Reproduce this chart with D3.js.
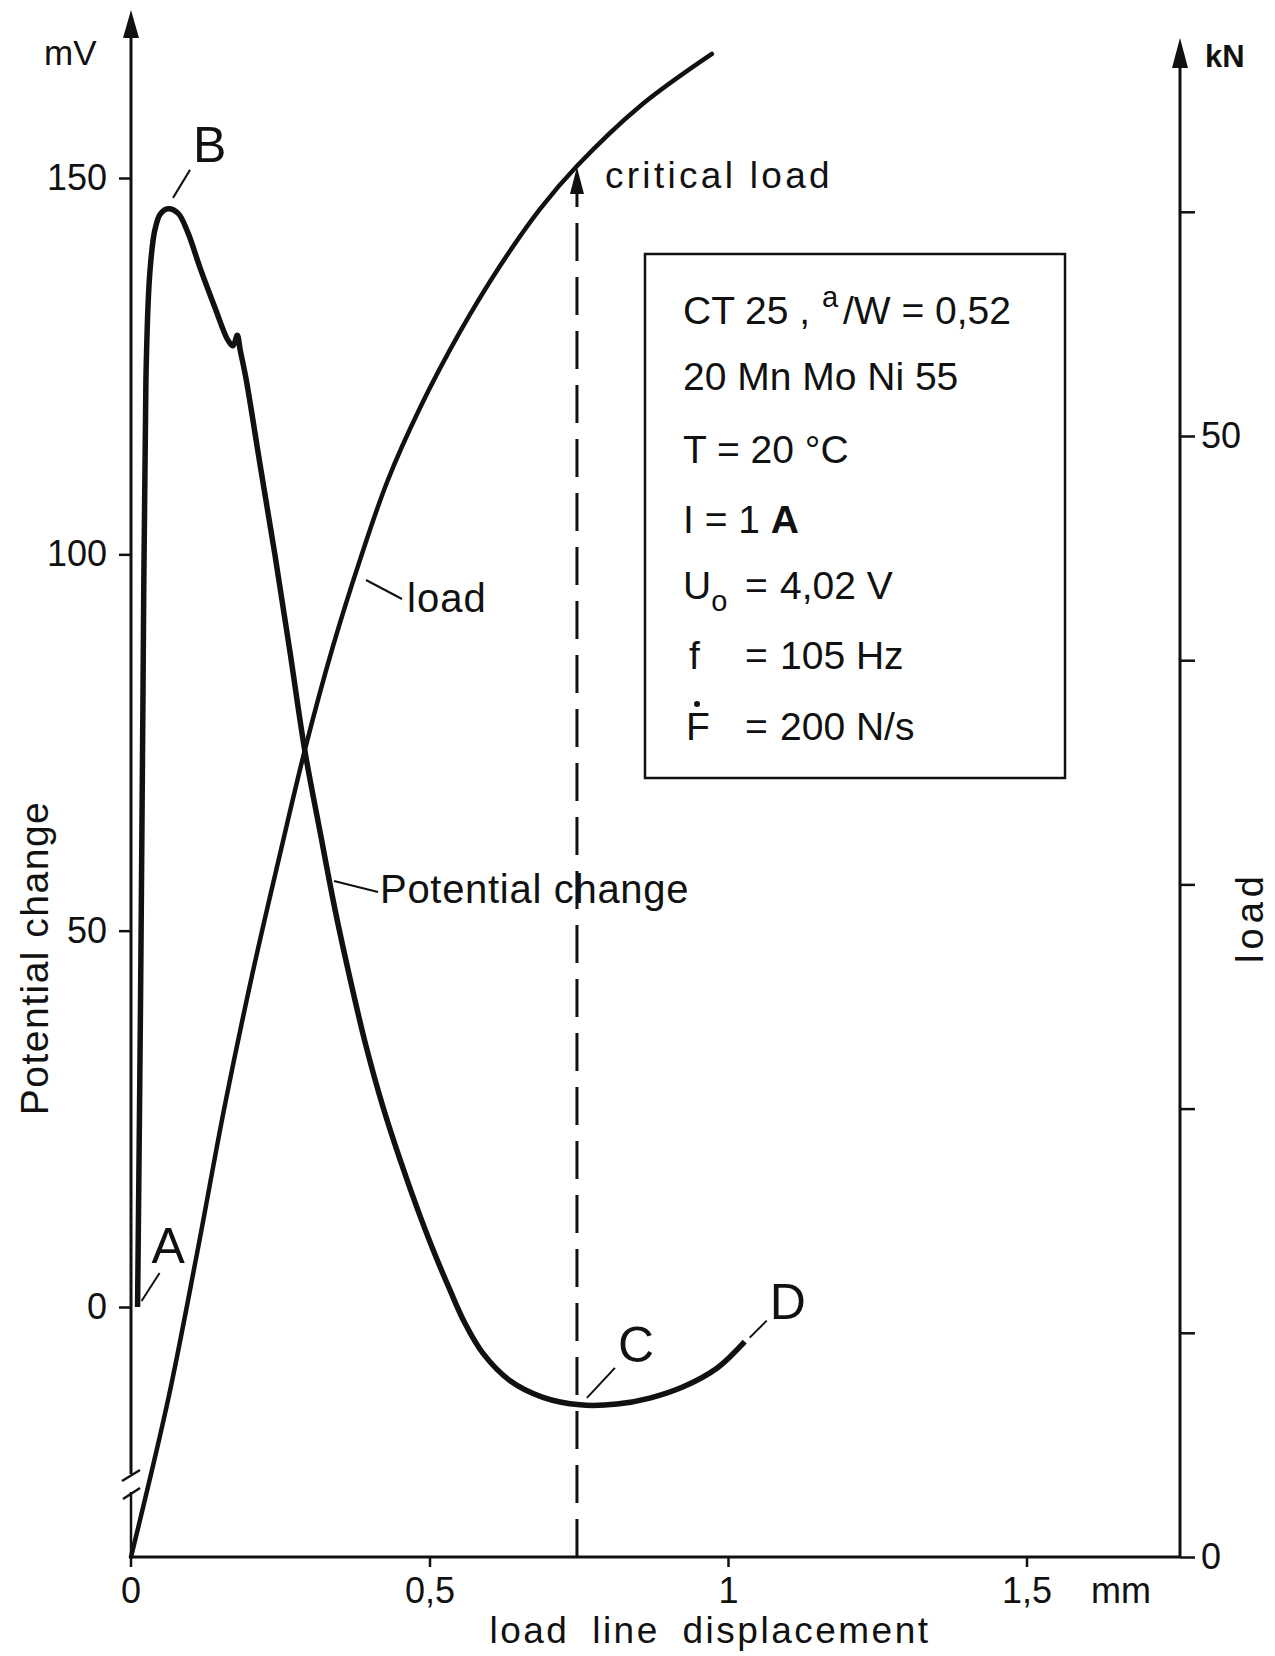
<!DOCTYPE html>
<html><head><meta charset="utf-8">
<script src="https://cdn.jsdelivr.net/npm/d3@7/dist/d3.min.js"></script>
<style>
body{margin:0;background:#fff}
text{font-family:"Liberation Sans",Arial,sans-serif;fill:#111}
</style>
</head><body>
<svg id="c" width="1275" height="1656"></svg>
<script>
// ---- data ----
const dispTicks = [0, 0.5, 1, 1.5];
const dispTickLabels = ["0", "0,5", "1", "1,5"];
const mvTicks = [0, 50, 100, 150];
const knTicks = [0, 10, 20, 30, 40, 50, 60];
const knLabelled = [0, 50];

// potential change curve: load line displacement (mm) vs mV
const potX  = [0.011,0.016,0.020,0.025,0.030,0.035,0.040,0.049,0.062,0.079,0.095,0.116,0.141,0.162,0.171,0.178,0.183,0.193,0.216,0.241,0.266,0.291,0.317,0.342,0.367,0.392,0.422,0.451,0.479,0.506,0.534,0.559,0.590,0.635,0.690,0.752,0.814,0.869,0.925,0.982,1.028];
const potMV = [0,40.8,80.6,123.2,135.5,140.4,143.1,145.2,145.9,145.3,142.8,138.0,132.7,128.5,127.7,129.1,127.1,123.2,112.0,100.0,87.2,74.0,63.0,52.7,43.6,35.2,26.6,19.5,13.2,7.6,2.3,-2.1,-6.2,-9.8,-12.0,-13.0,-12.9,-12.1,-10.6,-8.1,-4.6];

// load curve: displacement (mm) vs kN
const loadX  = [0,0.062,0.111,0.157,0.204,0.250,0.291,0.338,0.384,0.429,0.484,0.551,0.618,0.685,0.747,0.853,0.973];
const loadKN = [0,7.00,13.60,20.12,26.09,31.40,35.97,40.59,44.51,47.95,51.25,54.64,57.58,60.12,62.04,64.72,67.04];

const criticalX = 0.747, criticalKN = 62.0;
const pointNames = ["A", "B", "C", "D"];
const pointIdx = [0, 8, 35, 40];   // indices into potential curve

// ---- scales ----
const svg = d3.select("#c");
const x = d3.scaleLinear().domain([0, 1]).range([131, 728]);
const yMV = d3.scaleLinear().domain([0, 150]).range([1307, 178]);
const yKN = d3.scaleLinear().domain([0, 50]).range([1557, 436]);
const xEnd = 1180, yBase = yKN(0);

// ---- axes ----
const ax = svg.append("g").attr("stroke", "#111").attr("fill", "none");
ax.append("line").attr("x1", x(0)).attr("x2", x(0)).attr("y1", yBase + 10).attr("y2", 1492).attr("stroke-width", 2.5);
ax.append("line").attr("x1", x(0)).attr("x2", x(0)).attr("y1", 1474).attr("y2", 36).attr("stroke-width", 3);
ax.append("line").attr("x1", x(0) - 9).attr("y1", 1481).attr("x2", x(0) + 9).attr("y2", 1470).attr("stroke-width", 2.5);
ax.append("line").attr("x1", x(0) - 8).attr("y1", 1499).attr("x2", x(0) + 9).attr("y2", 1488).attr("stroke-width", 2.5);
svg.append("path").attr("d", `M${x(0)},10 L${x(0) - 8},38 L${x(0) + 8},38 Z`).attr("fill", "#111");
ax.append("line").attr("x1", xEnd).attr("x2", xEnd).attr("y1", yBase).attr("y2", 66).attr("stroke-width", 3);
svg.append("path").attr("d", `M${xEnd},38 L${xEnd - 8},68 L${xEnd + 8},68 Z`).attr("fill", "#111");
ax.append("line").attr("x1", x(0)).attr("x2", xEnd).attr("y1", yBase).attr("y2", yBase).attr("stroke-width", 3);

const gl = svg.append("g").attr("transform", `translate(${x(0)},0)`)
  .call(d3.axisLeft(yMV).tickValues(mvTicks).tickSize(12).tickPadding(12));
const gr = svg.append("g").attr("transform", `translate(${xEnd},0)`)
  .call(d3.axisRight(yKN).tickValues(knTicks).tickSize(15).tickPadding(6)
    .tickFormat(d => knLabelled.includes(d) ? String(d) : ""));
const gb = svg.append("g").attr("transform", `translate(0,${yBase})`)
  .call(d3.axisBottom(x).tickValues(dispTicks.slice(1)).tickSize(10).tickPadding(10)
    .tickFormat((d, i) => dispTickLabels[i + 1]));
svg.append("text").attr("x", x(0)).attr("y", yBase + 46).attr("text-anchor", "middle")
  .style("font-size", "36px").text(dispTickLabels[0]);
[gl, gr, gb].forEach(g => {
  g.select(".domain").remove();
  g.selectAll(".tick line").attr("stroke", "#111").attr("stroke-width", 2.5);
  g.selectAll(".tick text").attr("fill", "#111").style("font-size", "36px")
    .style("font-family", '"Liberation Sans", Arial, sans-serif');
});

// ---- curves ----
const potData = potX.map((v, i) => [v, potMV[i]]);
const loadData = loadX.map((v, i) => [v, loadKN[i]]);
svg.append("path").datum(potData)
  .attr("d", d3.line().x(d => x(d[0])).y(d => yMV(d[1])).curve(d3.curveCatmullRom.alpha(0.5)))
  .attr("fill", "none").attr("stroke", "#111").attr("stroke-width", 5.5).attr("stroke-linejoin", "round");
svg.append("path").datum(loadData)
  .attr("d", d3.line().x(d => x(d[0])).y(d => yKN(d[1])).curve(d3.curveCatmullRom.alpha(0.5)))
  .attr("fill", "none").attr("stroke", "#111").attr("stroke-width", 4.5).attr("stroke-linecap", "round");

// critical load dashed arrow
const cx = x(criticalX), cy = yKN(criticalKN);
svg.append("line").attr("x1", cx).attr("x2", cx).attr("y1", yBase).attr("y2", cy + 24)
  .attr("stroke", "#111").attr("stroke-width", 3).attr("stroke-dasharray", "38,16");
svg.append("path").attr("d", `M${cx},${cy} L${cx - 7},${cy + 27} L${cx + 7},${cy + 27} Z`).attr("fill", "#111");
svg.append("text").attr("x", cx + 28).attr("y", cy + 21).style("font-size", "37px").style("letter-spacing", "3.3px").text("critical load");

// ---- point labels A-D with leaders ----
const leaderOff = [[ [4,-6], [22,-34], [14,-44] ],
                   [ [5,-11], [22,-39], [25,-47] ],
                   [ [7,-7], [35,-37], [38,-43] ],
                   [ [5,-4], [22,-21], [25,-23] ]];
pointNames.forEach((n, k) => {
  const i = pointIdx[k];
  const px = x(potX[i]), py = yMV(potMV[i]);
  const o = leaderOff[k];
  svg.append("line").attr("x1", px + o[0][0]).attr("y1", py + o[0][1]).attr("x2", px + o[1][0]).attr("y2", py + o[1][1])
    .attr("stroke", "#111").attr("stroke-width", 2);
  svg.append("text").attr("x", px + o[2][0]).attr("y", py + o[2][1]).style("font-size", "50px").text(n);
});

// curve labels
svg.append("line").attr("x1", 366).attr("y1", 580).attr("x2", 402).attr("y2", 599).attr("stroke", "#111").attr("stroke-width", 2);
svg.append("text").attr("x", 407).attr("y", 612).style("font-size", "40px").style("letter-spacing", "1px").text("load");
svg.append("line").attr("x1", 334).attr("y1", 881).attr("x2", 378).attr("y2", 892).attr("stroke", "#111").attr("stroke-width", 2);
svg.append("text").attr("x", 380).attr("y", 903).style("font-size", "40px").style("letter-spacing", "0.7px").text("Potential change");

// axis titles
svg.append("text").attr("x", 44).attr("y", 65).style("font-size", "35px").text("mV");
svg.append("text").attr("x", 1205).attr("y", 67).style("font-size", "31px").style("font-weight", "bold").text("kN");
svg.append("text").attr("x", 1091).attr("y", 1603).style("font-size", "36px").text("mm");
svg.append("text").attr("transform", "translate(48,958) rotate(-90)").attr("text-anchor", "middle")
  .style("font-size", "39px").style("letter-spacing", "1.5px").text("Potential change");
svg.append("text").attr("transform", "translate(1263,917) rotate(-90)").attr("text-anchor", "middle")
  .style("font-size", "38px").style("letter-spacing", "5px").text("load");
svg.append("text").attr("x", 710).attr("y", 1643).attr("text-anchor", "middle")
  .style("font-size", "37px").style("letter-spacing", "2.5px").style("word-spacing", "10px").text("load line displacement");

// ---- info box ----
svg.append("rect").attr("x", 645).attr("y", 254).attr("width", 420).attr("height", 524)
  .attr("fill", "none").attr("stroke", "#111").attr("stroke-width", 2.5);
const fs = "39px";
const bx = 683;
let t = svg.append("text").attr("y", 324).style("font-size", fs);
t.append("tspan").attr("x", bx).text("CT 25 ,");
t.append("tspan").attr("x", 822).attr("dy", -17).style("font-size", "29px").text("a");
t.append("tspan").attr("x", 843).attr("dy", 17).text("/W = 0,52");
svg.append("text").attr("x", bx).attr("y", 390).style("font-size", fs).text("20 Mn Mo Ni 55");
svg.append("text").attr("x", bx).attr("y", 463).style("font-size", fs).text("T = 20 °C");
t = svg.append("text").attr("x", bx).attr("y", 533).style("font-size", fs);
t.append("tspan").text("I = 1 ");
t.append("tspan").style("font-weight", "bold").text("A");
t = svg.append("text").attr("y", 599).style("font-size", fs);
t.append("tspan").attr("x", bx).text("U");
t.append("tspan").attr("dy", 12).style("font-size", "29px").text("o");
t.append("tspan").attr("x", 745).attr("dy", -12).text("=");
t.append("tspan").attr("x", 780).text("4,02  V");
t = svg.append("text").attr("y", 669).style("font-size", fs);
t.append("tspan").attr("x", 689).text("f");
t.append("tspan").attr("x", 745).text("=");
t.append("tspan").attr("x", 780).text("105 Hz");
t = svg.append("text").attr("y", 740).style("font-size", fs);
t.append("tspan").attr("x", bx + 3).text("F");
t.append("tspan").attr("x", 745).text("=");
t.append("tspan").attr("x", 780).text("200 N/s");
svg.append("circle").attr("cx", 697).attr("cy", 704).attr("r", 3).attr("fill", "#111");
</script>
</body></html>
